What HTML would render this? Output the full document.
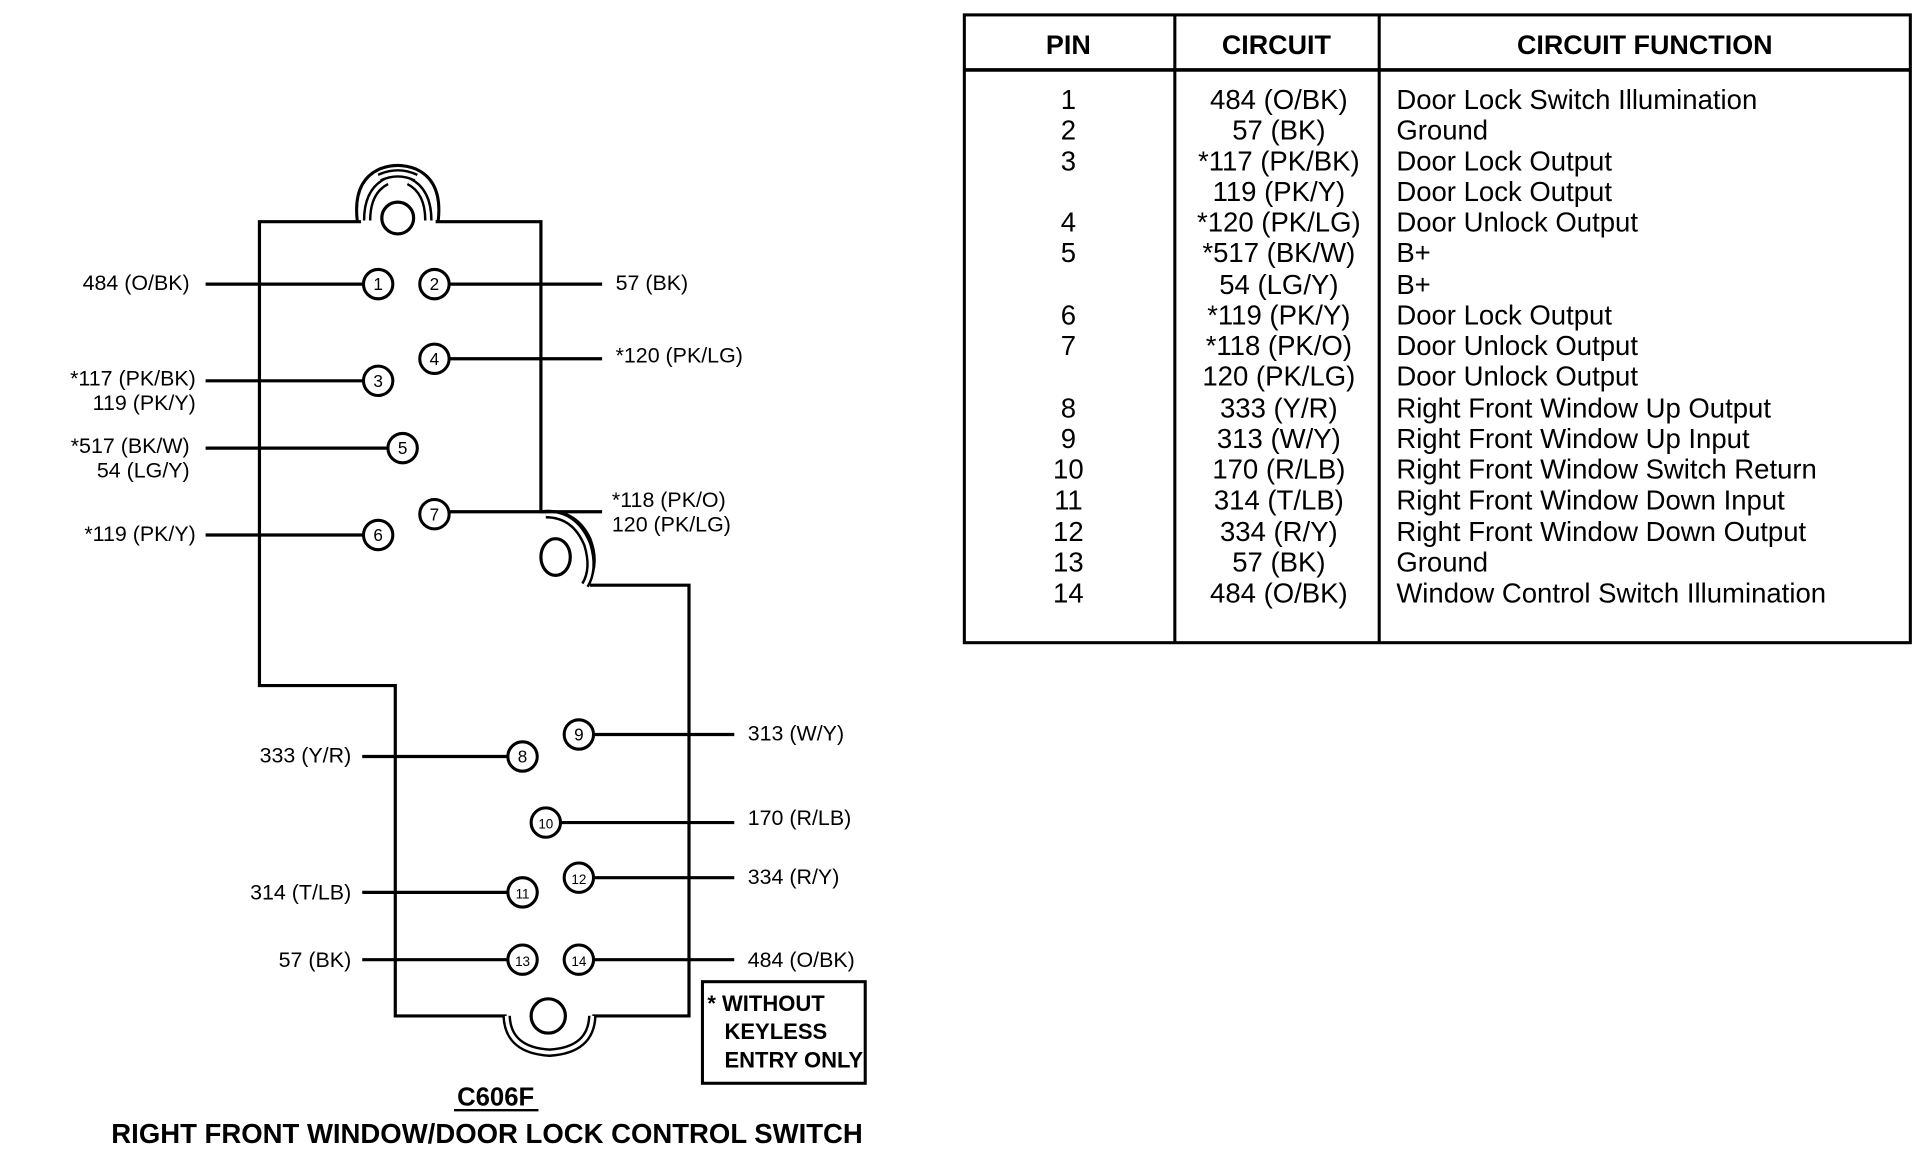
<!DOCTYPE html>
<html><head><meta charset="utf-8"><style>
html,body{margin:0;padding:0;background:#fff;}
svg{display:block;}
text{font-family:"Liberation Sans",Arial,sans-serif;fill:#000;}
</style></head><body>
<svg width="1914" height="1152" viewBox="0 0 1564 941" xmlns="http://www.w3.org/2000/svg">
<g fill="none" stroke="#000" stroke-width="2.6">
<path d="M295,181 L212,181 L212,560 L323,560 L323,830 L414,830 M484,830 L563,830 L563,478 L482,478 M442,418 L442,181 L356,181"/>
<path d="M292,181 Q288,148 310,138 Q325,132 340,138 Q362,148 358,181" stroke-width="2.5"/>
<path d="M300,180 Q300,156 316,148" stroke-width="7"/>
<path d="M300,180 Q300,156 316,148" stroke-width="3" stroke="#fff"/>
<path d="M350,180 Q350,156 334,148" stroke-width="7"/>
<path d="M350,180 Q350,156 334,148" stroke-width="3" stroke="#fff"/>
<path d="M310,145 Q325,138 340,145" stroke-width="7"/>
<path d="M310,145 Q325,138 340,145" stroke-width="3" stroke="#fff"/>
<circle cx="325" cy="178" r="13"/>
<path d="M442,418 Q470,415 482,440 Q490,460 480,478" />
<path d="M446,420 Q470,420 480,445 Q486,465 478,478" stroke-width="7"/>
<path d="M446,420 Q470,420 480,445 Q486,465 478,478" stroke-width="3" stroke="#fff"/>
<ellipse cx="454" cy="455" rx="12" ry="15"/>
<path d="M414,830 Q415,858 449,860 Q483,858 484,830" stroke-width="7"/>
<path d="M414,830 Q415,858 449,860 Q483,858 484,830" stroke-width="3" stroke="#fff"/>
<circle cx="448" cy="830" r="14"/>
<path d="M168,232 H298 M366,232 H492 M168,311 H298 M366,293 H492 M168,366 H318 M168,437 H298 M366,418 H492 M296,618 H416 M484,600 H600 M457,672 H600 M296,729 H416 M484,717 H600 M296,784 H416 M484,784 H600"/>
</g>
<g fill="#fff" stroke="#000" stroke-width="2.5">
<circle cx="309" cy="232" r="12"/><circle cx="355" cy="232" r="12"/>
<circle cx="309" cy="311" r="12"/><circle cx="355" cy="293" r="12"/>
<circle cx="329" cy="366" r="12"/><circle cx="309" cy="437" r="12"/>
<circle cx="355" cy="420" r="12"/><circle cx="427" cy="618" r="12"/>
<circle cx="473" cy="600" r="12"/><circle cx="446" cy="672" r="12"/>
<circle cx="427" cy="729" r="12"/><circle cx="473" cy="717" r="12"/>
<circle cx="427" cy="784" r="12"/><circle cx="473" cy="784" r="12"/>
</g>
<g font-size="14" text-anchor="middle">
<text x="309" y="237">1</text><text x="355" y="237">2</text><text x="309" y="316">3</text><text x="355" y="298">4</text>
<text x="329" y="371">5</text><text x="309" y="442">6</text><text x="355" y="425">7</text><text x="427" y="623">8</text>
<text x="473" y="605">9</text><text x="446" y="677" font-size="11">10</text><text x="427" y="734" font-size="11">11</text>
<text x="473" y="722" font-size="11">12</text><text x="427" y="789" font-size="11">13</text><text x="473" y="789" font-size="11">14</text>
</g>
<g font-size="17.5">
<text x="155" y="237" text-anchor="end">484 (O/BK)</text>
<text x="503" y="237">57 (BK)</text>
<text x="503" y="296">*120 (PK/LG)</text>
<text x="160" y="315" text-anchor="end">*117 (PK/BK)</text>
<text x="160" y="335" text-anchor="end">119 (PK/Y)</text>
<text x="155" y="370" text-anchor="end">*517 (BK/W)</text>
<text x="155" y="390" text-anchor="end">54 (LG/Y)</text>
<text x="160" y="442" text-anchor="end">*119 (PK/Y)</text>
<text x="500" y="414">*118 (PK/O)</text>
<text x="500" y="434">120 (PK/LG)</text>
<text x="287" y="623" text-anchor="end">333  (Y/R)</text>
<text x="611" y="605">313 (W/Y)</text>
<text x="611" y="674">170 (R/LB)</text>
<text x="287" y="735" text-anchor="end">314  (T/LB)</text>
<text x="611" y="722">334 (R/Y)</text>
<text x="287" y="790" text-anchor="end">57  (BK)</text>
<text x="611" y="790">484 (O/BK)</text>
</g>
<rect x="574" y="802" width="133" height="83" fill="none" stroke="#000" stroke-width="2.5"/>
<g font-size="18" font-weight="bold">
<text x="578" y="826">* WITHOUT</text>
<text x="592" y="849">KEYLESS</text>
<text x="592" y="872">ENTRY ONLY</text>
</g>
<text x="405" y="903" font-size="21" font-weight="bold" text-anchor="middle">C606F</text>
<line x1="371" y1="907" x2="440" y2="907" stroke="#000" stroke-width="2"/>
<text x="398" y="934" font-size="22.5" font-weight="bold" text-anchor="middle">RIGHT FRONT WINDOW/DOOR LOCK CONTROL SWITCH</text>
<g fill="none" stroke="#000" stroke-width="2.5">
<rect x="788" y="12" width="773" height="513"/>
<line x1="788" y1="57" x2="1561" y2="57" stroke-width="3"/>
<line x1="960" y1="12" x2="960" y2="525"/>
<line x1="1127" y1="12" x2="1127" y2="525"/>
</g>
<g font-size="22" font-weight="bold" text-anchor="middle">
<text x="873" y="44">PIN</text><text x="1043" y="44">CIRCUIT</text><text x="1344" y="44">CIRCUIT FUNCTION</text>
</g>
<g font-size="22.5">
<g text-anchor="middle">
<text x="873" y="89">1</text><text x="873" y="114">2</text><text x="873" y="139">3</text>
<text x="873" y="189">4</text><text x="873" y="214">5</text><text x="873" y="265">6</text>
<text x="873" y="290">7</text><text x="873" y="341">8</text><text x="873" y="366">9</text>
<text x="873" y="391">10</text><text x="873" y="416">11</text><text x="873" y="442">12</text>
<text x="873" y="467">13</text><text x="873" y="492">14</text>
<text x="1045" y="89">484 (O/BK)</text><text x="1045" y="114">57 (BK)</text><text x="1045" y="139">*117 (PK/BK)</text>
<text x="1045" y="164">119 (PK/Y)</text><text x="1045" y="189">*120 (PK/LG)</text><text x="1045" y="214">*517 (BK/W)</text>
<text x="1045" y="240">54 (LG/Y)</text><text x="1045" y="265">*119 (PK/Y)</text><text x="1045" y="290">*118 (PK/O)</text>
<text x="1045" y="315">120 (PK/LG)</text><text x="1045" y="341">333 (Y/R)</text><text x="1045" y="366">313 (W/Y)</text>
<text x="1045" y="391">170 (R/LB)</text><text x="1045" y="416">314 (T/LB)</text><text x="1045" y="442">334 (R/Y)</text>
<text x="1045" y="467">57 (BK)</text><text x="1045" y="492">484 (O/BK)</text>
</g>
<text x="1141" y="89">Door Lock Switch Illumination</text><text x="1141" y="114">Ground</text>
<text x="1141" y="139">Door Lock Output</text><text x="1141" y="164">Door Lock Output</text>
<text x="1141" y="189">Door Unlock Output</text><text x="1141" y="214">B+</text>
<text x="1141" y="240">B+</text><text x="1141" y="265">Door Lock Output</text>
<text x="1141" y="290">Door Unlock Output</text><text x="1141" y="315">Door Unlock Output</text>
<text x="1141" y="341">Right Front Window Up Output</text><text x="1141" y="366">Right Front Window Up Input</text>
<text x="1141" y="391">Right Front Window Switch Return</text><text x="1141" y="416">Right Front Window Down Input</text>
<text x="1141" y="442">Right Front Window Down Output</text><text x="1141" y="467">Ground</text>
<text x="1141" y="492">Window Control Switch Illumination</text>
</g>
</svg>
</body></html>
